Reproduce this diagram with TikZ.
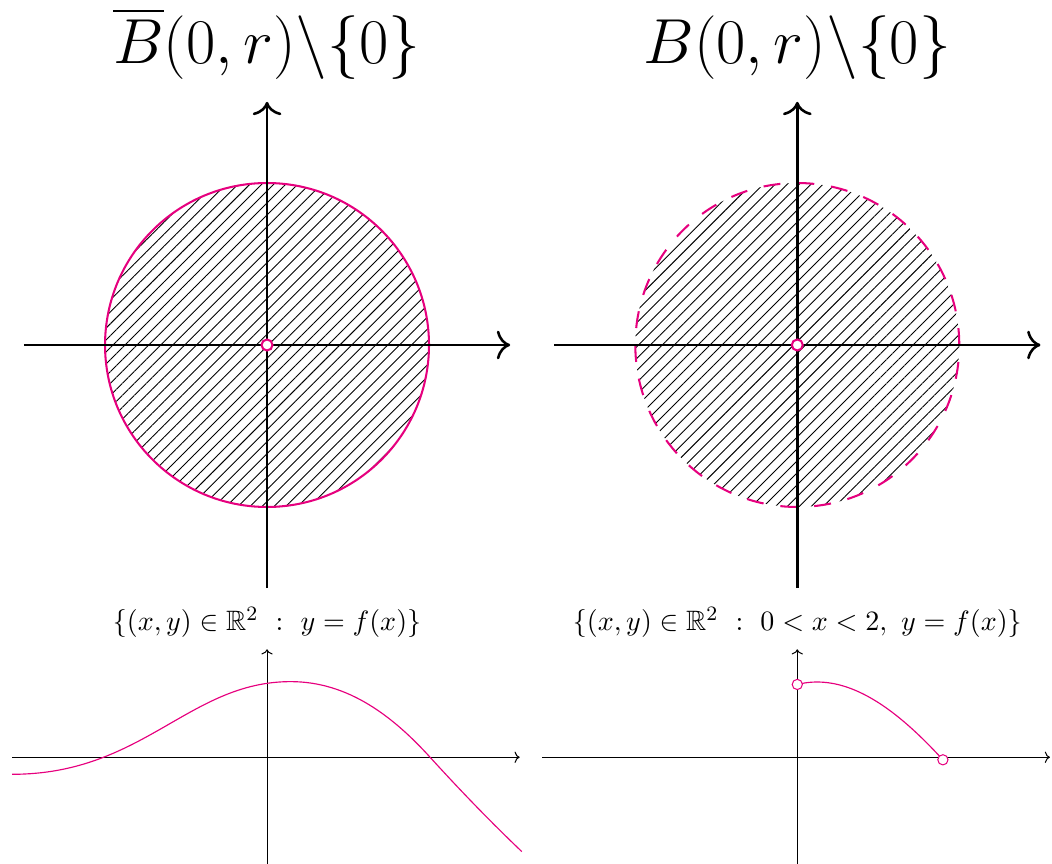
\documentclass[tikz,border=0pt]{standalone}
\usepackage{amsmath, amssymb}
\usetikzlibrary{arrows.meta, patterns.meta, calc}

\definecolor{ballpink}{RGB}{230,0,126}

\begin{document}
\begin{tikzpicture}[
    x=1cm, y=1cm,
    bigaxis/.style={line width=1pt, -{Computer Modern Rightarrow[length=5.2pt, width=11.2pt]}},
    smallaxis/.style={line width=0.4pt, -{Computer Modern Rightarrow[length=2pt, width=4.4pt]}},
    hatched/.style={pattern={Lines[angle=45, distance=3.3pt, line width=0.35pt]}},
    bighole/.style={circle, draw=ballpink, fill=white, line width=0.8pt, inner sep=0pt, minimum size=4.3pt},
    smallhole/.style={circle, draw=ballpink, fill=white, line width=0.4pt, inner sep=0pt, minimum size=4pt},
    graphline/.style={ballpink, line width=0.45pt},
    titletext/.style={anchor=base, font=\Huge},
    labeltext/.style={anchor=base, font=\fontsize{10.95pt}{13pt}\selectfont},
    ]

    \useasboundingbox (-3.668,-1.466) rectangle (10.783,10.402);

    % Define a macro to draw each disc panel
    % Parameters: ID, X_center, Boundary style, Title
    \newcommand{\ballpanel}[4]{
        \coordinate (c-#1) at (#2, 5.663);
        \coordinate (w-#1) at ($(c-#1)+(-3.34,0)$);
        \coordinate (e-#1) at ($(c-#1)+(3.34,0)$);
        \coordinate (s-#1) at ($(c-#1)+(0,-3.34)$);
        \coordinate (n-#1) at ($(c-#1)+(0,3.34)$);

        % Hatched disc and its boundary
        \fill[hatched] (c-#1) circle (2.225);
        \draw[ballpink, line width=0.8pt, #3] (c-#1) circle (2.225);

        % Axes
        \draw[bigaxis] (w-#1) -- (e-#1);
        \draw[bigaxis] (s-#1) -- (n-#1);

        % Removed origin
        \node[bighole] (hole-#1) at (c-#1) {};

        % Title
        \node[titletext] (title-#1) at (#2, 9.533) {#4};
    }

    % Define a macro to draw the axes of each graph panel
    % Parameters: ID, X_origin
    \newcommand{\graphaxes}[2]{
        \coordinate (o-#1) at (#2, 0);
        \coordinate (gw-#1) at ($(o-#1)+(-3.5,0)$);
        \coordinate (ge-#1) at ($(o-#1)+(3.47,0)$);
        \coordinate (gs-#1) at ($(o-#1)+(0,-1.5)$);
        \coordinate (gn-#1) at ($(o-#1)+(0,1.483)$);
        \draw[smallaxis] (gw-#1) -- (ge-#1);
        \draw[smallaxis] (gs-#1) -- (gn-#1);
    }

    % ==========================================
    % Top: closed and open punctured balls
    % ==========================================
    \ballpanel{closed}{0}{}{$\overline{B}(0,r)\backslash\{0\}$}
    \ballpanel{open}{7.284}{dash pattern=on 6.63pt off 6.63pt}{$B(0,r)\backslash\{0\}$}

    % ==========================================
    % Bottom: graph of f and its restriction
    % ==========================================
    \graphaxes{graph}{0}
    \graphaxes{restr}{7.284}

    \draw[graphline] (-3.5,-0.234) .. controls (-1.7,-0.234) and (-1.075,1.039) .. (0.325,1.039)
        .. controls (1.125,1.039) and (1.74,0.55) .. (2.24,0)
        .. controls (2.66,-0.462) and (3.08,-0.896) .. (3.5,-1.296);

    \begin{scope}[shift={(o-restr)}]
        \draw[graphline, domain=0:2, samples=60, smooth]
            plot (\x, {1 + 0.25*\x - 0.4784*\x*\x + 0.0473*\x*\x*\x});
        \node[smallhole] (left-end) at (0,1.0) {};
        \node[smallhole] (right-end) at (2,-0.035) {};
    \end{scope}

    % Set descriptions
    \node[labeltext] (label-graph) at (0, 1.735) {$\{(x,y)\in\mathbb{R}^2\ :\ y=f(x)\}$};
    \node[labeltext] (label-restr) at (7.284, 1.735) {$\{(x,y)\in\mathbb{R}^2\ :\ 0<x<2,\ y=f(x)\}$};

\end{tikzpicture}
\end{document}
